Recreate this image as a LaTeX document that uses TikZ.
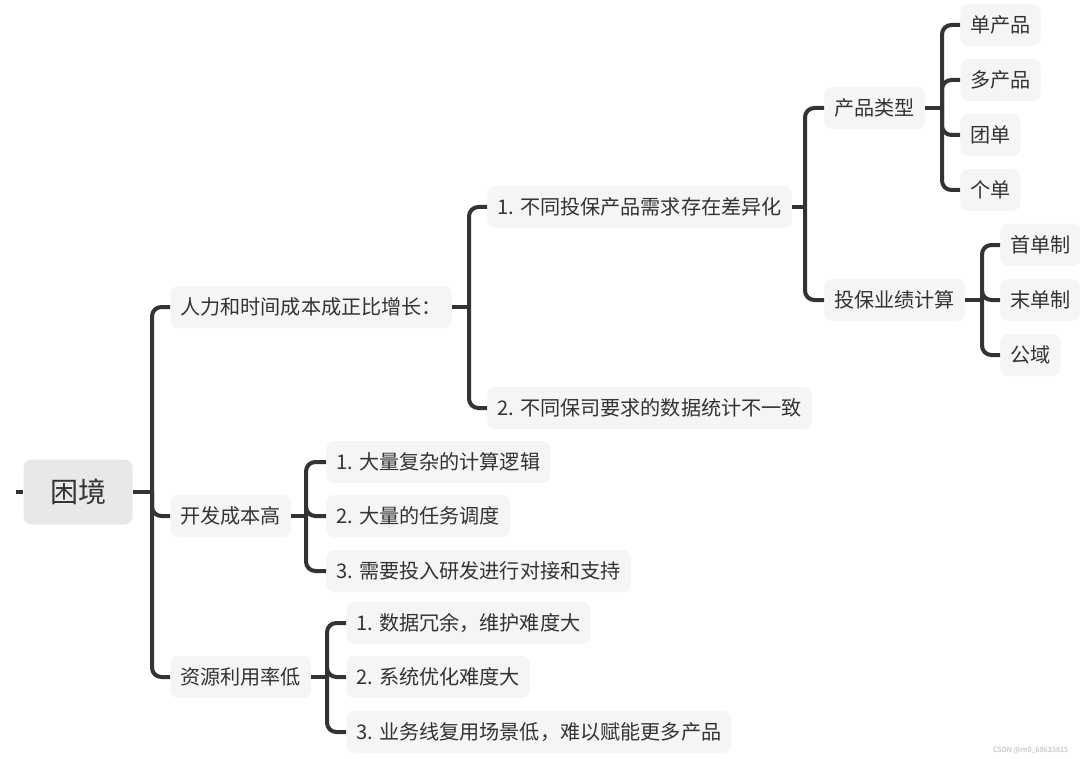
\documentclass[tikz,border=0pt]{standalone}
\usepackage{fontspec}
\setmainfont{Noto Sans CJK SC}
\usetikzlibrary{positioning, calc}
\definecolor{linkgray}{HTML}{333333}
\definecolor{topicfill}{HTML}{F5F5F5}
\definecolor{rootfill}{HTML}{E8E8E8}
\definecolor{marktext}{HTML}{B4B4B4}

\begin{document}
\begin{tikzpicture}[
  x=0.75pt, y=-0.75pt,
  root/.style={rectangle, rounded corners=6pt, fill=rootfill, minimum width=81.75pt, minimum height=48.75pt, font=\fontsize{21}{24}\selectfont, text=linkgray},
  topic/.style={rectangle, rounded corners=6pt, fill=topicfill, minimum height=31.5pt, inner xsep=7.5pt, anchor=west, font=\fontsize{15.1}{18}\selectfont, text=linkgray},
  link/.style={line width=3pt, color=linkgray, rounded corners=7pt},
]
  \useasboundingbox (0,0) rectangle (1080,759);

  % root
  \node[root] (root) at (78,492) {困境};
  \draw[link] (root.west) -- ++(-7,0);

  % first level
  \node[topic] (cost) at (170,307) {人力和时间成本成正比增长：};
  \node[topic] (dev) at (170,516) {开发成本高};
  \node[topic] (res) at (170,677) {资源利用率低};

  % cost branch
  \node[topic] (diff) at (487,207) {1. 不同投保产品需求存在差异化};
  \node[topic] (stat) at (487,408) {2. 不同保司要求的数据统计不一致};
  \node[topic] (type) at (824,108) {产品类型};
  \node[topic] (perf) at (824,300) {投保业绩计算};
  \node[topic] (single) at (960,25) {单产品};
  \node[topic] (multi) at (960,80) {多产品};
  \node[topic] (group) at (960,135) {团单};
  \node[topic] (indiv) at (960,190) {个单};
  \node[topic] (first) at (1000,245) {首单制};
  \node[topic] (last) at (1000,300) {末单制};
  \node[topic] (public) at (1000,355) {公域};

  % dev branch
  \node[topic] (calc) at (326,462) {1. 大量复杂的计算逻辑};
  \node[topic] (sched) at (326,516) {2. 大量的任务调度};
  \node[topic] (support) at (326,571) {3. 需要投入研发进行对接和支持};

  % res branch
  \node[topic] (redund) at (346,623) {1. 数据冗余，维护难度大};
  \node[topic] (optim) at (346,677) {2. 系统优化难度大};
  \node[topic] (reuse) at (346,732) {3. 业务线复用场景低，难以赋能更多产品};

  % junctions
  \coordinate (j0) at (152,492);
  \coordinate (j1) at (469,307);
  \coordinate (j2) at (805,207);
  \coordinate (j3) at (942,108);
  \coordinate (j4) at (982,300);
  \coordinate (j5) at (306,516);
  \coordinate (j6) at (327,677);

  \draw[link] (root.east) -- (j0);
  \foreach \c in {cost,dev,res} \draw[link] (j0) |- (\c.west);
  \draw[link] (cost.east) -- (j1);
  \foreach \c in {diff,stat} \draw[link] (j1) |- (\c.west);
  \draw[link] (diff.east) -- (j2);
  \foreach \c in {type,perf} \draw[link] (j2) |- (\c.west);
  \draw[link] (type.east) -- (j3);
  \foreach \c in {single,multi,group,indiv} \draw[link] (j3) |- (\c.west);
  \draw[link] (perf.east) -- (j4);
  \foreach \c in {first,last,public} \draw[link] (j4) |- (\c.west);
  \draw[link] (dev.east) -- (j5);
  \foreach \c in {calc,sched,support} \draw[link] (j5) |- (\c.west);
  \draw[link] (res.east) -- (j6);
  \foreach \c in {redund,optim,reuse} \draw[link] (j6) |- (\c.west);

  \node[font=\fontsize{5.5}{6}\selectfont, text=marktext, anchor=east] (mark) at (1073,750) {CSDN @m0\_68635815};
\end{tikzpicture}
\end{document}
